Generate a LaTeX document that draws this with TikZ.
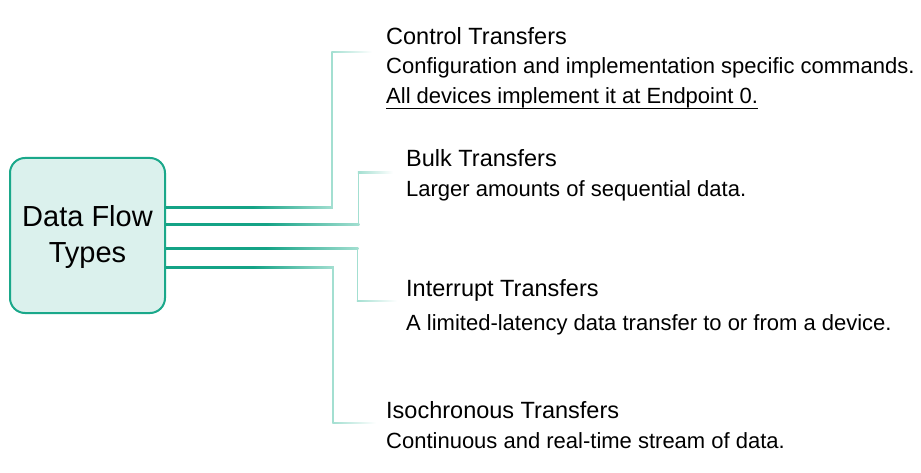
\documentclass[tikz,border=0pt]{standalone}
\usepackage{fontspec}
\setmainfont{Liberation Sans}
\usetikzlibrary{calc}
\definecolor{tealdark}{HTML}{14A386}
\definecolor{teallight}{HTML}{A3DFD1}
\definecolor{boxfill}{HTML}{DBF1ED}
\definecolor{boxline}{HTML}{1AA88A}
\pgfdeclarehorizontalshading{connfade}{100bp}{color(0bp)=(tealdark); color(25bp)=(tealdark); color(51bp)=(tealdark); color(75bp)=(teallight); color(100bp)=(teallight)}
\pgfdeclarehorizontalshading{endfade}{100bp}{color(0bp)=(teallight); color(25bp)=(teallight); color(75bp)=(white); color(100bp)=(white)}
\begin{document}
\begin{tikzpicture}[x=1pt,y=-1pt,
  flowbox/.style={draw=boxline, line width=2pt, fill=boxfill, rounded corners=15pt,
    minimum width=155pt, minimum height=155pt, inner sep=0pt},
  boxtext/.style={font=\fontsize{29}{36}\selectfont, align=center, text=black},
  ttl/.style={anchor=base west, inner sep=0pt, font=\fontsize{23.5}{28}\selectfont},
  dsc/.style={anchor=base west, inner sep=0pt, font=\fontsize{22}{28}\selectfont},
  vseg/.style={draw=teallight, line width=1.5pt}]
\useasboundingbox (0,0) rectangle (921,473);

\node[flowbox] (box) at (87.5,235.5) {};
\node[boxtext] (boxlabel) at ($(box.center)+(0,2)$) {Data Flow\\Types};

% texts
\node[ttl] (t1) at (386,45) {Control Transfers};
\node[dsc] (d1a) at (386,74) {Configuration and implementation specific commands.};
\node[dsc] (d1b) at (386,104) {All devices implement it at Endpoint 0.};
\draw[line width=1.3pt] ($(d1b.base west)+(0,4.5)$) -- ($(d1b.base east)+(0,4.5)$);

\node[ttl] (t2) at (406,167) {Bulk Transfers};
\node[dsc] (d2) at (406,197) {Larger amounts of sequential data.};

\node[ttl] (t3) at (406,296) {Interrupt Transfers};
\node[dsc] (d3) at (406,330) {A limited-latency data transfer to or from a device.};

\node[ttl] (t4) at (386,418) {Isochronous Transfers};
\node[dsc] (d4) at (386,448) {Continuous and real-time stream of data.};

% connectors: start, corner, turn, end
\newcommand\flowconn[5]{% #1 name, #2 start y, #3 corner x, #4 turn y, #5 end x
  \coordinate (#1s) at (box.east |- 0,#2);
  \coordinate (#1k) at (#3,#2);
  \coordinate (#1t) at (#3,#4);
  \coordinate (#1e) at (#5,#4);
  \shade[shading=connfade] ($(#1s)+(0,-1.1)$) rectangle ($(#1k)+(0.75,1.1)$);
  \draw[vseg] (#1k) -- (#1t);
  \shade[shading=endfade] ($(#1t)+(-0.75,-0.75)$) rectangle ($(#1e)+(0,0.75)$);
}
\flowconn{a}{207.5}{332}{52}{372}
\flowconn{b}{224.5}{358.5}{172.5}{393}
\flowconn{c}{248.5}{357.5}{301}{397}
\flowconn{d}{267.5}{333}{423}{376}
\end{tikzpicture}
\end{document}
